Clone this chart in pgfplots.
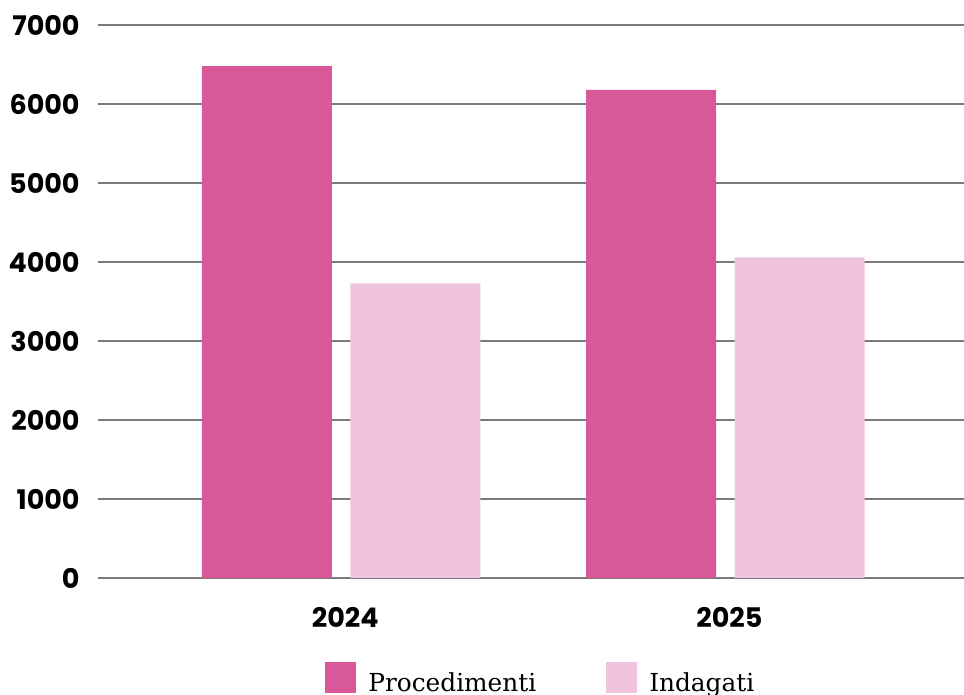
\documentclass[border=0pt]{standalone}
\usepackage{fontspec}
\usepackage{pgfplots}
\pgfplotsset{compat=1.18}
\newfontfamily\poppins{Poppins}
\newfontfamily\slab{DejaVu Serif}
\definecolor{proc}{HTML}{D9589A}
\definecolor{inda}{HTML}{F0C4DE}
\definecolor{gridc}{HTML}{7A7A7A}
\pgfplotsset{sqlegend/.style={legend image code/.code={\fill[##1] (0pt,-7.75pt) rectangle (15.5pt,7.75pt);}}}
\begin{document}
\begin{tikzpicture}
\begin{axis}[
    at={(0,0)}, anchor=south west,
    scale only axis, width=433pt, height=276.5pt,
    xmin=-0.633, xmax=1.621, ymin=0, ymax=7000,
    ytick={0,1000,...,7000},
    xtick={0,1}, xticklabels={2024,2025},
    axis line style={draw=none},
    tick style={draw=none}, major tick length=0pt,
    ymajorgrids, grid style={gridc, line width=0.7pt},
    scaled y ticks=false,
    /pgf/number format/1000 sep={},
    /pgf/number format/assume math mode=true,
    ticklabel style={font=\poppins\bfseries\fontsize{13.5}{16}\selectfont, inner sep=0pt},
    yticklabel style={anchor=east, xshift=-9pt},
    xticklabel style={anchor=north, yshift=-14.5pt, xshift=2pt},
    legend columns=2,
    legend style={at={(0.2621,-0.1817)}, anchor=west, draw=none, inner sep=0pt,
        font=\slab\fontsize{12.4}{14}\selectfont,
        nodes={inner sep=0pt, yshift=-3pt},
        /tikz/every odd column/.append style={column sep=6pt},
        /tikz/every even column/.append style={column sep=35pt}},
]
% Procedimenti
\addplot[ybar, bar width=0.3383, bar shift=-0.1932, fill=proc, draw=none, sqlegend]
    coordinates {(0,6480) (1,6180)};
\addlegendentry{Procedimenti}
% Indagati
\addplot[ybar, bar width=0.3383, bar shift=0.1932, fill=inda, draw=none, sqlegend]
    coordinates {(0,3730) (1,4060)};
\addlegendentry{Indagati}
\end{axis}
\pgfresetboundingbox
\path (-49pt,-58.5pt) rectangle (433pt,289pt);
\end{tikzpicture}
\end{document}
